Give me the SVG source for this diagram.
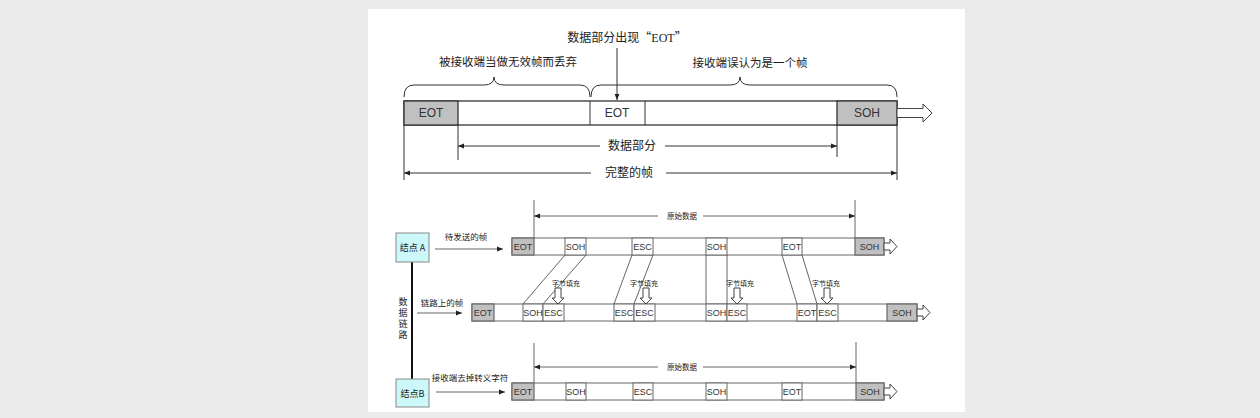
<svg xmlns="http://www.w3.org/2000/svg" width="1260" height="418" viewBox="0 0 1260 418">
<defs>
<marker id="ah" viewBox="0 0 10 10" refX="10" refY="5" markerWidth="6" markerHeight="6" orient="auto-start-reverse" markerUnits="userSpaceOnUse">
<path d="M0,1 L10,5 L0,9 Z" fill="#222"/>
</marker>
<style>
.cn{font-family:"Noto Sans CJK SC","Noto Sans",sans-serif;fill:#222}
.lt{font-family:"Liberation Sans",Arial,sans-serif;fill:#333}
.ln{stroke:#333;stroke-width:1;fill:none}
.ln2{stroke:#555;stroke-width:0.9;fill:none}
.fr{fill:#fff;stroke:#333;stroke-width:1.3}
.frg{fill:#c0c0c0;stroke:#333;stroke-width:1.3}
.cell{fill:#fff;stroke:#666;stroke-width:1}
.cellg{fill:#c0c0c0;stroke:#666;stroke-width:1.2}
.hol{fill:#fff;stroke:#444;stroke-width:1}
.node{fill:#ccf8fa;stroke:#888;stroke-width:1}
</style>
</defs>
<rect x="0" y="0" width="1260" height="418" fill="#ebebeb"/>
<rect x="368" y="9" width="597" height="403" fill="#fff"/>

<g id="top-frame">
<rect class="fr" x="404" y="101" width="493" height="24"/>
<rect class="frg" x="404" y="101" width="54" height="24"/>
<line class="ln" x1="590" y1="101" x2="590" y2="125"/>
<line class="ln" x1="645" y1="101" x2="645" y2="125"/>
<rect class="frg" x="837" y="101" width="60" height="24"/>
<text class="lt" x="431" y="117" font-size="12" text-anchor="middle">EOT</text>
<text class="lt" x="617" y="117" font-size="12" text-anchor="middle">EOT</text>
<text class="lt" x="867" y="117" font-size="12" text-anchor="middle">SOH</text>
<path class="hol" d="M897,108.5 H923 V104 L932,113 L923,122 V117.5 H897 Z"/>
</g>

<g id="top-labels">
<text class="cn" x="627" y="42" font-size="12" text-anchor="middle">数据部分出现“<tspan font-family="Liberation Serif,serif">EOT</tspan>”</text>
<text class="cn" x="508" y="66" font-size="11.5" text-anchor="middle">被接收端当做无效帧而丢弃</text>
<text class="cn" x="750" y="67" font-size="11.5" text-anchor="middle">接收端误认为是一个帧</text>
<path class="ln" d="M404,97 Q404,85 414,85 L484,85 Q494,85 494,77 Q494,85 504,85 L580,85 Q590,85 590,97"/>
<path class="ln" d="M591,97 Q591,85 601,85 L730,85 Q740,85 740,77 Q740,85 750,85 L887,85 Q897,85 897,97"/>
<text class="cn" x="632" y="150" font-size="12" text-anchor="middle">数据部分</text>
<text class="cn" x="629" y="177" font-size="12" text-anchor="middle">完整的帧</text>
</g>

<g id="connectors">
<line class="ln" x1="617" y1="48" x2="617" y2="100" marker-end="url(#ah)"/>
<line class="ln" x1="458" y1="125" x2="458" y2="160"/>
<line class="ln" x1="837" y1="125" x2="837" y2="157"/>
<line class="ln" x1="404" y1="125" x2="404" y2="180"/>
<line class="ln" x1="897" y1="125" x2="897" y2="180"/>
<line class="ln" x1="600" y1="146" x2="458" y2="146" marker-end="url(#ah)"/>
<line class="ln" x1="665" y1="146" x2="837" y2="146" marker-end="url(#ah)"/>
<line class="ln" x1="591" y1="173" x2="404" y2="173" marker-end="url(#ah)"/>
<line class="ln" x1="666" y1="173" x2="897" y2="173" marker-end="url(#ah)"/>

<line x1="412" y1="262" x2="412" y2="379" stroke="#111" stroke-width="2"/>
<line class="ln2" x1="435" y1="249" x2="503" y2="249" marker-end="url(#ah)"/>
<line class="ln2" x1="417" y1="313" x2="462" y2="313" marker-end="url(#ah)"/>
<line class="ln2" x1="436" y1="392" x2="505" y2="392" marker-end="url(#ah)"/>

<line class="ln2" x1="534" y1="200" x2="534" y2="238"/>
<line class="ln2" x1="855" y1="200" x2="855" y2="238"/>
<line class="ln2" x1="658" y1="216" x2="534" y2="216" marker-end="url(#ah)"/>
<line class="ln2" x1="703" y1="216" x2="855" y2="216" marker-end="url(#ah)"/>
<line class="ln2" x1="534" y1="343" x2="534" y2="383"/>
<line class="ln2" x1="856" y1="342" x2="856" y2="383"/>
<line class="ln2" x1="658" y1="367" x2="534" y2="367" marker-end="url(#ah)"/>
<line class="ln2" x1="703" y1="367" x2="856" y2="367" marker-end="url(#ah)"/>

<line class="ln2" x1="565" y1="255" x2="523" y2="304"/>
<line class="ln2" x1="586" y1="255" x2="543" y2="304"/>
<line class="ln2" x1="632" y1="255" x2="614" y2="304"/>
<line class="ln2" x1="653" y1="255" x2="634" y2="304"/>
<line class="ln2" x1="706" y1="255" x2="706" y2="304"/>
<line class="ln2" x1="727" y1="255" x2="727" y2="304"/>
<line class="ln2" x1="782" y1="255" x2="797" y2="304"/>
<line class="ln2" x1="802" y1="255" x2="817" y2="304"/>
</g>

<g id="node-a">
<rect class="node" x="396" y="233" width="33" height="29"/>
<text class="cn" x="412.5" y="251" font-size="9" text-anchor="middle">结点 A</text>
</g>
<g id="node-b">
<rect class="node" x="396" y="379" width="33" height="28"/>
<text class="cn" x="412.5" y="397" font-size="9" text-anchor="middle">结点B</text>
</g>

<g id="bottom-labels">
<text class="cn" font-size="9" text-anchor="middle"><tspan x="403" y="305">数</tspan><tspan x="403" y="316">据</tspan><tspan x="403" y="327">链</tspan><tspan x="403" y="338">路</tspan></text>
<text class="cn" x="466" y="240" font-size="8.5" text-anchor="middle">待发送的帧</text>
<text class="cn" x="442" y="306" font-size="8.5" text-anchor="middle">链路上的帧</text>
<text class="cn" x="470" y="381" font-size="8.5" text-anchor="middle">接收端去掉转义字符</text>
<text class="cn" x="682" y="219" font-size="7.5" text-anchor="middle">原始数据</text>
<text class="cn" x="682" y="370" font-size="7.5" text-anchor="middle">原始数据</text>
<text class="cn" x="566" y="286" font-size="7" text-anchor="middle">字节填充</text>
<text class="cn" x="644" y="286" font-size="7" text-anchor="middle">字节填充</text>
<text class="cn" x="740" y="286" font-size="7" text-anchor="middle">字节填充</text>
<text class="cn" x="826" y="286" font-size="7" text-anchor="middle">字节填充</text>
</g>

<g id="frame-send">
<rect class="cell" x="512" y="238" width="372" height="17"/>
<rect class="cellg" x="512" y="238" width="22" height="17"/>
<rect class="cell" x="565" y="238" width="21" height="17"/>
<rect class="cell" x="632" y="238" width="21" height="17"/>
<rect class="cell" x="706" y="238" width="21" height="17"/>
<rect class="cell" x="782" y="238" width="20" height="17"/>
<rect class="cellg" x="855" y="238" width="29" height="17"/>
<g class="lt" font-size="9" text-anchor="middle">
<text x="523" y="250">EOT</text><text x="575.5" y="250">SOH</text><text x="642.5" y="250">ESC</text><text x="716.5" y="250">SOH</text><text x="792" y="250">EOT</text><text x="869.5" y="250">SOH</text>
</g>
<path class="hol" d="M884,243 H890 V239 L897,246.5 L890,254 V250 H884 Z"/>
</g>

<g id="frame-link">
<rect class="cell" x="472" y="304" width="445" height="17"/>
<rect class="cellg" x="472" y="304" width="22" height="17"/>
<rect class="cell" x="523" y="304" width="20" height="17"/>
<rect class="cell" x="543" y="304" width="21" height="17"/>
<rect class="cell" x="614" y="304" width="20" height="17"/>
<rect class="cell" x="634" y="304" width="21" height="17"/>
<rect class="cell" x="706" y="304" width="21" height="17"/>
<rect class="cell" x="727" y="304" width="20" height="17"/>
<rect class="cell" x="797" y="304" width="20" height="17"/>
<rect class="cell" x="817" y="304" width="21" height="17"/>
<rect class="cellg" x="887" y="304" width="30" height="17"/>
<g class="lt" font-size="9" text-anchor="middle">
<text x="483" y="316">EOT</text><text x="533" y="316">SOH</text><text x="553.5" y="316">ESC</text><text x="624" y="316">ESC</text><text x="644.5" y="316">ESC</text><text x="716.5" y="316">SOH</text><text x="737" y="316">ESC</text><text x="807" y="316">EOT</text><text x="827.5" y="316">ESC</text><text x="902" y="316">SOH</text>
</g>
<path class="hol" d="M917,309 H923 V305 L930,312.5 L923,320 V316 H917 Z"/>
<path class="hol" d="M555,288 H561 V298 H564 L558,304 L552,298 H555 Z"/>
<path class="hol" d="M643,288 H649 V298 H652 L646,304 L640,298 H643 Z"/>
<path class="hol" d="M734,288 H740 V298 H743 L737,304 L731,298 H734 Z"/>
<path class="hol" d="M824,288 H830 V298 H833 L827,304 L821,298 H824 Z"/>
</g>

<g id="frame-recv">
<rect class="cell" x="512" y="383" width="372" height="17"/>
<rect class="cellg" x="512" y="383" width="22" height="17"/>
<rect class="cell" x="566" y="383" width="20" height="17"/>
<rect class="cell" x="633" y="383" width="20" height="17"/>
<rect class="cell" x="706" y="383" width="21" height="17"/>
<rect class="cell" x="782" y="383" width="20" height="17"/>
<rect class="cellg" x="856" y="383" width="28" height="17"/>
<g class="lt" font-size="9" text-anchor="middle">
<text x="523" y="395">EOT</text><text x="576" y="395">SOH</text><text x="643" y="395">ESC</text><text x="716.5" y="395">SOH</text><text x="792" y="395">EOT</text><text x="870" y="395">SOH</text>
</g>
<path class="hol" d="M884,388 H890 V384 L897,391.5 L890,399 V395 H884 Z"/>
</g>
</svg>
